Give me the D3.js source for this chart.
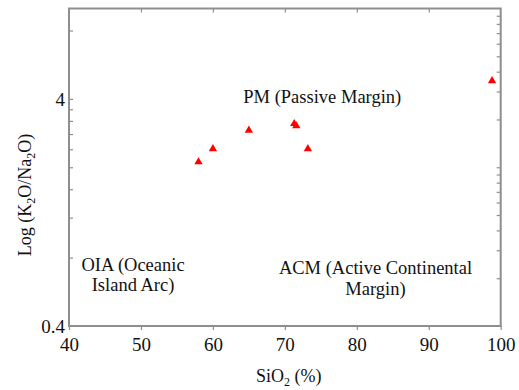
<!DOCTYPE html>
<html>
<head>
<meta charset="utf-8">
<script src="https://cdn.jsdelivr.net/npm/d3@7/dist/d3.min.js"></script>
<style>
    body { margin: 0; background: #fff; }
    svg text { font-family: "Liberation Serif", "Times New Roman", serif; fill: #111; }
</style>
</head>
<body>
<svg id="chart"></svg>
<script>
// sample values
var sio2 = [58, 60, 65, 71.3, 71.6, 73.2, 98.8]
var k2oNa2o = [2.11, 2.41, 2.91, 3.11, 3.04, 2.41, 4.8]

var xTicks = [40, 50, 60, 70, 80, 90, 100]
var yTickLabels = [0.4, 4]
var yMinorTicks = [0.8, 1.2, 1.6, 2.0, 2.4, 2.8, 3.2, 3.6, 4, 8]
var rightTicks = [2, 3, 4, 5, 6, 7, 8, 9, 10, 20, 30, 40, 50, 60, 70, 80, 90]

// field labels: [x, y, text]
var fieldLabels = [
    [75.2, 3.84, "PM (Passive Margin)"],
    [48.9, 0.70, "OIA (Oceanic"],
    [48.9, 0.568, "Island Arc)"],
    [82.6, 0.677, "ACM (Active Continental"],
    [82.6, 0.548, "Margin)"]
]

var width = 519, height = 390
var margin = { top: 8.5, left: 69, bottom: 64, right: 18.3 }
var w = width - margin.left - margin.right
var h = height - margin.top - margin.bottom
var axisColor = "#8e8e8e"

var svg = d3.select("#chart").attr("width", width).attr("height", height)
var g = svg.append("g").attr("transform", "translate(" + [margin.left, margin.top] + ")")

var x = d3.scaleLinear().domain([40, 100]).range([0, w])
var y = d3.scaleLog().domain([0.4, 10]).range([h, 0])
var yRight = d3.scaleLog().domain([1, 100]).range([h, 0])

function styleAxis(sel) {
    sel.select(".domain").remove()
    sel.selectAll("line").attr("stroke", axisColor).attr("stroke-width", 1.2)
}

// bottom axis (ticks outward, labelled)
g.append("g")
    .attr("transform", "translate(0," + h + ")")
    .call(d3.axisBottom(x).tickValues(xTicks).tickSize(4).tickPadding(4).tickFormat(d3.format("d")))
    .call(styleAxis)
    .selectAll("text").style("font-size", "19px").attr("dy", "0.9em")

// top axis (ticks inward)
g.append("g")
    .call(d3.axisBottom(x).tickValues(xTicks.slice(1, -1)).tickSize(4).tickFormat(""))
    .call(styleAxis)

// left axis minor ticks (inward)
g.append("g")
    .call(d3.axisRight(y).tickValues(yMinorTicks).tickSize(4).tickFormat(""))
    .call(styleAxis)

// left axis labels
g.append("g")
    .call(d3.axisLeft(y).tickValues(yTickLabels).tickSize(0).tickPadding(4).tickFormat(function (d) { return d }))
    .call(function (s) { s.select(".domain").remove() })
    .selectAll("text").style("font-size", "19px").attr("dy", "0.33em")

// right axis, unlabelled log ticks (inward)
g.append("g")
    .attr("transform", "translate(" + w + ",0)")
    .call(d3.axisLeft(yRight).tickValues(rightTicks).tickSize(4).tickFormat(""))
    .call(styleAxis)

// frame
g.append("rect")
    .attr("width", w)
    .attr("height", h)
    .attr("fill", "none")
    .attr("stroke", axisColor)
    .attr("stroke-width", 2)

// points
g.selectAll(".pt")
    .data(sio2)
    .enter().append("path")
    .attr("class", "pt")
    .attr("d", d3.symbol().type(d3.symbolTriangle).size(30))
    .attr("transform", function (d, i) { return "translate(" + x(d) + "," + y(k2oNa2o[i]) + ")" })
    .attr("fill", "#ff0000")

// field labels
g.selectAll(".field")
    .data(fieldLabels)
    .enter().append("text")
    .attr("class", "field")
    .attr("x", function (d) { return x(d[0]) })
    .attr("y", function (d) { return y(d[1]) })
    .attr("text-anchor", "middle")
    .style("font-size", "18.5px")
    .text(function (d) { return d[2] })

// x-axis title
var xt = svg.append("text")
    .attr("x", margin.left + w / 2 + 4)
    .attr("y", 382)
    .attr("text-anchor", "middle")
    .style("font-size", "18px")
xt.append("tspan").text("SiO")
xt.append("tspan").attr("dy", 4).style("font-size", "12px").text("2")
xt.append("tspan").attr("dy", -4).text(" (%)")

// y-axis title
var yt = svg.append("text")
    .attr("transform", "translate(31," + 195 + ") rotate(-90)")
    .attr("text-anchor", "middle")
    .style("font-size", "18px")
yt.append("tspan").text("Log (K")
yt.append("tspan").attr("dy", 4).style("font-size", "12px").text("2")
yt.append("tspan").attr("dy", -4).text("O/Na")
yt.append("tspan").attr("dy", 4).style("font-size", "12px").text("2")
yt.append("tspan").attr("dy", -4).text("O)")
</script>
</body>
</html>
